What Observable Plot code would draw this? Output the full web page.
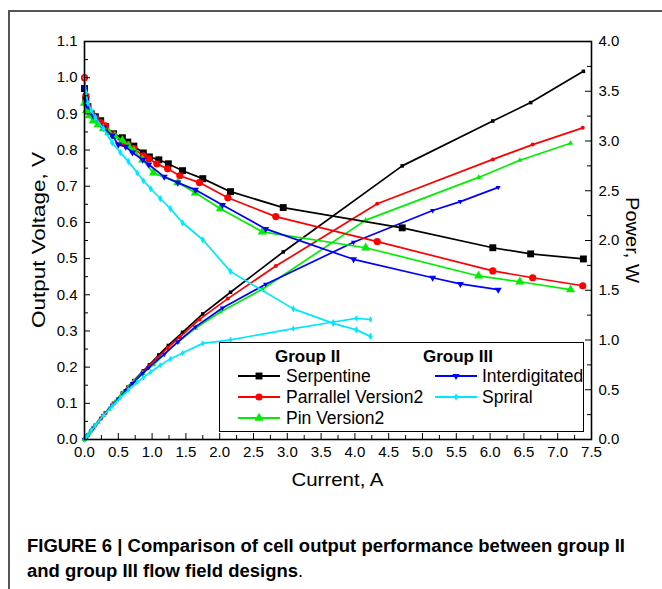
<!DOCTYPE html>
<html>
<head>
<meta charset="utf-8">
<script src="https://cdn.jsdelivr.net/npm/d3@7"></script>
<script src="https://cdn.jsdelivr.net/npm/@observablehq/plot@0.6"></script>
<style>
  html, body { margin: 0; padding: 0; background: #fff; }
  #wrap { position: relative; width: 662px; height: 589px; overflow: hidden; background: #fff; }
  #chart { position: absolute; left: 0; top: 0; }
  .hline { position: absolute; left: 9px; top: 10px; width: 653px; height: 2px; background: #555; }
  .vline { position: absolute; left: 8px; top: 10px; width: 2px; height: 579px; background: #555; }
  #caption { position: absolute; left: 0; top: 525px; }
</style>
</head>
<body>
<div id="wrap">
  <div class="hline"></div>
  <div class="vline"></div>
  <div id="chart"></div>
  <svg id="caption" width="662" height="64"></svg>
</div>
<script>
// ---------------- data ----------------
const serpI = [0, 0.02, 0.05, 0.10, 0.16, 0.24, 0.31, 0.43, 0.56, 0.64, 0.73, 0.87, 0.96, 1.10, 1.24, 1.45, 1.75, 2.16, 2.94, 4.70, 6.04, 6.60, 7.38];
const serpV = [0.97, 0.94, 0.92, 0.90, 0.892, 0.881, 0.865, 0.845, 0.834, 0.822, 0.811, 0.792, 0.781, 0.773, 0.762, 0.743, 0.721, 0.685, 0.641, 0.585, 0.530, 0.513, 0.499];
const serpP = [0, 0.019, 0.046, 0.090, 0.143, 0.211, 0.268, 0.363, 0.467, 0.526, 0.592, 0.689, 0.750, 0.850, 0.945, 1.077, 1.262, 1.480, 1.885, 2.750, 3.201, 3.386, 3.700];

const paraI = [0, 0.02, 0.05, 0.10, 0.16, 0.24, 0.31, 0.43, 0.56, 0.64, 0.73, 0.87, 0.95, 1.07, 1.23, 1.41, 1.70, 2.12, 2.83, 4.33, 6.04, 6.63, 7.37];
const paraV = [1.00, 0.95, 0.92, 0.90, 0.888, 0.876, 0.867, 0.842, 0.820, 0.815, 0.804, 0.784, 0.776, 0.762, 0.748, 0.729, 0.710, 0.668, 0.616, 0.547, 0.466, 0.447, 0.425];
const paraP = [0, 0.019, 0.046, 0.090, 0.142, 0.210, 0.269, 0.362, 0.459, 0.522, 0.587, 0.682, 0.737, 0.815, 0.920, 1.028, 1.207, 1.416, 1.743, 2.369, 2.815, 2.964, 3.132];

const pinI = [0, 0.03, 0.07, 0.13, 0.20, 0.28, 0.36, 0.45, 0.56, 0.65, 0.73, 0.86, 1.02, 1.38, 1.64, 2.01, 2.63, 4.16, 5.83, 6.44, 7.19];
const pinV = [0.93, 0.91, 0.895, 0.881, 0.870, 0.859, 0.848, 0.838, 0.826, 0.811, 0.798, 0.773, 0.737, 0.710, 0.682, 0.638, 0.574, 0.530, 0.452, 0.436, 0.414];
const pinP = [0, 0.027, 0.063, 0.115, 0.174, 0.241, 0.305, 0.377, 0.463, 0.527, 0.583, 0.665, 0.752, 0.980, 1.118, 1.282, 1.510, 2.205, 2.634, 2.806, 2.977];

const interI = [0, 0.02, 0.04, 0.13, 0.28, 0.41, 0.50, 0.61, 0.71, 0.86, 0.95, 1.18, 1.38, 1.64, 2.04, 2.68, 3.98, 5.15, 5.56, 6.12];
const interV = [0.97, 0.94, 0.923, 0.895, 0.862, 0.840, 0.815, 0.809, 0.793, 0.773, 0.760, 0.726, 0.710, 0.690, 0.648, 0.582, 0.498, 0.447, 0.430, 0.414];
const interP = [0, 0.019, 0.037, 0.116, 0.241, 0.344, 0.408, 0.493, 0.563, 0.665, 0.722, 0.857, 0.980, 1.132, 1.322, 1.560, 1.982, 2.302, 2.391, 2.534];

const spirI = [0, 0.02, 0.05, 0.10, 0.16, 0.28, 0.41, 0.53, 0.65, 0.78, 0.87, 0.98, 1.12, 1.27, 1.45, 1.75, 2.16, 3.09, 3.68, 4.02, 4.23];
const spirV = [1.00, 0.96, 0.93, 0.91, 0.89, 0.859, 0.820, 0.793, 0.768, 0.737, 0.715, 0.693, 0.666, 0.638, 0.599, 0.552, 0.464, 0.361, 0.321, 0.303, 0.285];
const spirP = [0, 0.019, 0.047, 0.091, 0.142, 0.241, 0.336, 0.420, 0.499, 0.575, 0.622, 0.679, 0.746, 0.810, 0.869, 0.966, 1.002, 1.115, 1.181, 1.218, 1.206];

const seriesNames = ["Serpentine", "Parrallel Version2", "Pin Version2", "Interdigitated", "Spriral"];
const groupNames = ["Group II", "Group III"];

// tick values / labels
const xTicks = [0, 0.5, 1, 1.5, 2, 2.5, 3, 3.5, 4, 4.5, 5, 5.5, 6, 6.5, 7, 7.5];
const xMinor = [0.25, 0.75, 1.25, 1.75, 2.25, 2.75, 3.25, 3.75, 4.25, 4.75, 5.25, 5.75, 6.25, 6.75, 7.25];
const vTicks = [0, 0.1, 0.2, 0.3, 0.4, 0.5, 0.6, 0.7, 0.8, 0.9, 1.0, 1.1];
const vMinor = [0.05, 0.15, 0.25, 0.35, 0.45, 0.55, 0.65, 0.75, 0.85, 0.95, 1.05];
const pTicks = [0, 0.5, 1, 1.5, 2, 2.5, 3, 3.5, 4];
const pMinor = [0.25, 0.75, 1.25, 1.75, 2.25, 2.75, 3.25, 3.75];
const vDomain = [0, 1.1];
const pDomain = [0, 4.0];
const xDomain = [0, 7.5];
const axisTitles = {y: "Output Voltage, V", y2: "Power, W", x: "Current, A"};

// ---------------- build ----------------
const ratio = vDomain[1] / pDomain[1]; // power axis → voltage axis
const triDown = {
  draw(ctx, size) {
    const a = Math.sqrt(4 * size / Math.sqrt(3));
    const h = a * Math.sqrt(3) / 2;
    ctx.moveTo(0, 2 * h / 3);
    ctx.lineTo(-a / 2, -h / 3);
    ctx.lineTo(a / 2, -h / 3);
    ctx.closePath();
  }
};
const styles = [
  {color: "#000000", sym: d3.symbolSquare, r: 3.9, rp: 2.0},
  {color: "#ff0000", sym: d3.symbolCircle, r: 3.6, rp: 2.0},
  {color: "#00ee00", sym: d3.symbolTriangle, r: 3.4, rp: 2.0},
  {color: "#0000ff", sym: triDown, r: 2.6, rp: 1.9},
  {color: "#00e8ff", sym: d3.symbolDiamond, r: 2.2, rp: 1.9}
];
const raw = [
  [serpI, serpV, serpP], [paraI, paraV, paraP], [pinI, pinV, pinP],
  [interI, interV, interP], [spirI, spirV, spirP]
];
const series = raw.map(([I, V, P], k) => ({
  name: seriesNames[k], ...styles[k],
  rows: I.map((c, j) => ({I: c, V: V[j], P: P[j]}))
}));

const W = 662, H = 480, mL = 84, mR = 71, mT = 41, mB = 41;
const plotW = W - mL - mR, plotH = H - mT - mB;
const font = "'Liberation Sans', Arial, Helvetica, sans-serif";

const marks = [];
for (const s of series) {
  marks.push(Plot.line(s.rows, {x: "I", y: d => d.P * ratio, stroke: s.color, strokeWidth: 1.7}));
  marks.push(Plot.dot(s.rows, {x: "I", y: d => d.P * ratio, symbol: s.sym, r: s.rp, fill: s.color, stroke: "none"}));
}
for (const s of series) {
  marks.push(Plot.line(s.rows, {x: "I", y: "V", stroke: s.color, strokeWidth: 1.7}));
  marks.push(Plot.dot(s.rows, {x: "I", y: "V", symbol: s.sym, r: s.r, fill: s.color, stroke: "none"}));
}
marks.push(
  Plot.tickY(vTicks, {y: d => d, insetRight: plotW - 6, stroke: "#000", strokeWidth: 1}),
  Plot.tickY(vMinor, {y: d => d, insetRight: plotW - 4, stroke: "#000", strokeWidth: 1}),
  Plot.tickY(pTicks, {y: d => d * ratio, insetLeft: plotW - 6, stroke: "#000", strokeWidth: 1}),
  Plot.tickY(pMinor, {y: d => d * ratio, insetLeft: plotW - 4, stroke: "#000", strokeWidth: 1}),
  Plot.tickX(xTicks, {x: d => d, insetTop: plotH - 6, stroke: "#000", strokeWidth: 1}),
  Plot.tickX(xMinor, {x: d => d, insetTop: plotH - 4, stroke: "#000", strokeWidth: 1}),
  Plot.frame({stroke: "#000", strokeWidth: 1.6}),
  Plot.axisY(vTicks, {anchor: "left", tickSize: 0, tickPadding: 7, tickFormat: d => d.toFixed(1), label: null, fontSize: 15}),
  Plot.axisY(pTicks.map(p => p * ratio), {anchor: "right", tickSize: 0, tickPadding: 7, tickFormat: v => (v / ratio).toFixed(1), label: null, fontSize: 15}),
  Plot.axisX(xTicks, {anchor: "bottom", tickSize: 0, tickPadding: 7, tickFormat: d => d.toFixed(1), label: null, fontSize: 15})
);

const chart = Plot.plot({
  width: W, height: H,
  marginLeft: mL, marginRight: mR, marginTop: mT, marginBottom: mB,
  x: {domain: xDomain},
  y: {domain: vDomain},
  style: {fontFamily: font, fontSize: "15px", color: "#000", background: "transparent", overflow: "visible"},
  marks
});
document.getElementById("chart").appendChild(chart);

const svg = d3.select(chart);

// axis titles
const at = svg.append("g").attr("font-family", font).attr("font-size", 19).attr("fill", "#000").attr("text-anchor", "middle");
at.append("text").attr("transform", `translate(${mL - 46},${mT + plotH / 2}) rotate(-90)`).attr("dy", "0.35em")
  .attr("textLength", 176).attr("lengthAdjust", "spacingAndGlyphs").text(axisTitles.y);
at.append("text").attr("transform", `translate(${W - mR + 42},${mT + plotH / 2}) rotate(90)`).attr("dy", "0.35em")
  .attr("textLength", 86).attr("lengthAdjust", "spacingAndGlyphs").text(axisTitles.y2);
at.append("text").attr("x", mL + plotW / 2).attr("y", H + 6)
  .attr("textLength", 92).attr("lengthAdjust", "spacingAndGlyphs").text(axisTitles.x);

// legend
const lg = svg.append("g").attr("font-family", font).attr("text-anchor", "start");
lg.append("rect").attr("x", 219.5).attr("y", 342.5).attr("width", 364).attr("height", 89)
  .attr("fill", "#fff").attr("stroke", "#000").attr("stroke-width", 1);
lg.append("text").attr("x", 275).attr("y", 362).attr("font-size", 17).attr("font-weight", "bold").text(groupNames[0]);
lg.append("text").attr("x", 423).attr("y", 362).attr("font-size", 17).attr("font-weight", "bold").text(groupNames[1]);
const slots = [
  {x0: 238, x1: 280, tx: 286, y: 376},
  {x0: 238, x1: 280, tx: 286, y: 397},
  {x0: 238, x1: 280, tx: 286, y: 418},
  {x0: 435, x1: 477, tx: 482, y: 376},
  {x0: 435, x1: 477, tx: 482, y: 397}
];
series.forEach((s, k) => {
  const sl = slots[k];
  lg.append("line").attr("x1", sl.x0).attr("x2", sl.x1).attr("y1", sl.y).attr("y2", sl.y)
    .attr("stroke", s.color).attr("stroke-width", 2);
  lg.append("path").attr("transform", `translate(${(sl.x0 + sl.x1) / 2},${sl.y})`)
    .attr("d", d3.symbol(s.sym, Math.PI * s.r * s.r)()).attr("fill", s.color);
  lg.append("text").attr("x", sl.tx).attr("y", sl.y + 6).attr("font-size", 17.5).attr("fill", "#000").text(s.name);
});

// caption
const cap = d3.select("#caption").attr("font-family", "'Liberation Sans', Arial, sans-serif");
cap.append("text").attr("x", 27).attr("y", 27).attr("font-size", 18).attr("font-weight", "bold")
  .attr("textLength", 598).attr("lengthAdjust", "spacingAndGlyphs")
  .text("FIGURE 6 | Comparison of cell output performance between group II");
const t2 = cap.append("text").attr("x", 27).attr("y", 52).attr("font-size", 18);
t2.append("tspan").attr("font-weight", "bold").attr("textLength", 271).attr("lengthAdjust", "spacingAndGlyphs")
  .text("and group III flow field designs");
t2.append("tspan").text(".");
</script>
</body>
</html>
